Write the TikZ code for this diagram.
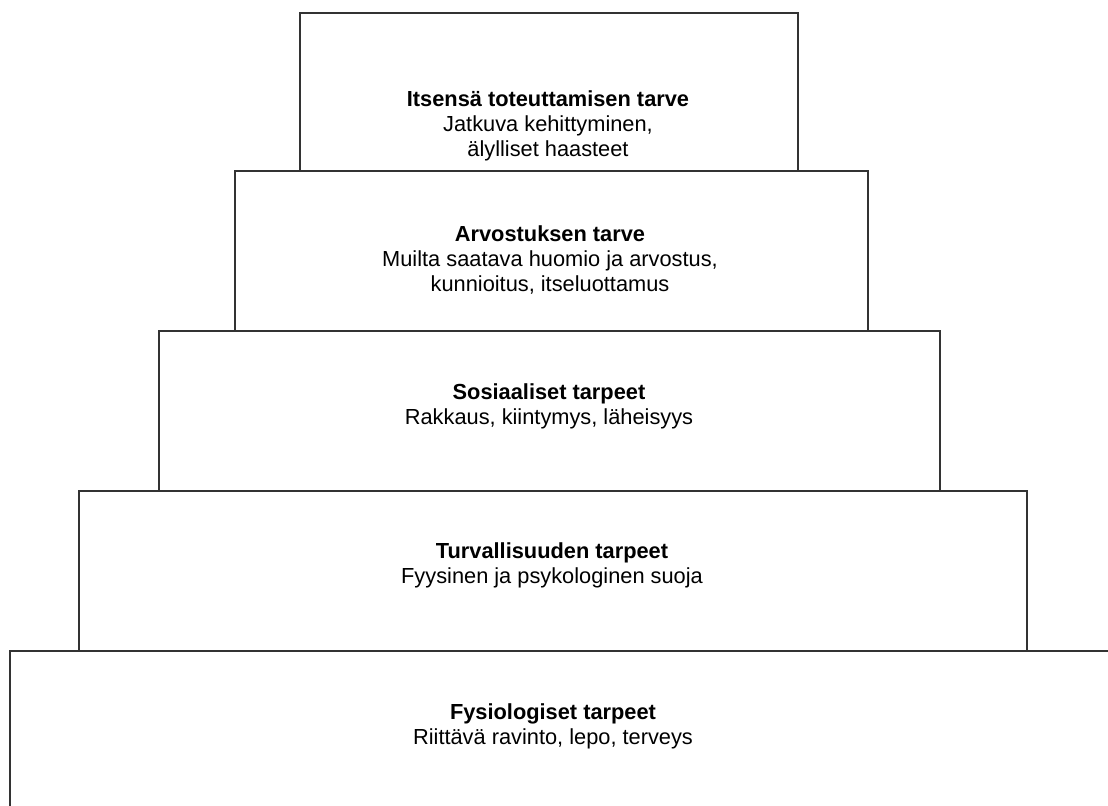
\documentclass[tikz,border=0pt]{standalone}
\usepackage{fontspec}
\setmainfont{Liberation Sans}
\usetikzlibrary{positioning}

\begin{document}
\begin{tikzpicture}[
				x=0.025cm, y=-0.025cm,
				level/.style={
					rectangle, draw=black!80, line width=1.3pt,
					anchor=north west, inner sep=0pt
				},
				needtext/.style={
					align=center, font=\fontsize{15.5}{17.6}\selectfont
				}
				]
				\useasboundingbox (0,0) rectangle (1108,806);
				\clip (0,0) rectangle (1108,806);
				
				% Fysiologiset (base, runs off the page)
				\node[level, minimum width=1200*0.025cm, minimum height=200*0.025cm] (fysio) at (9,650) {};
				
				% Turvallisuus
				\node[level, minimum width=948*0.025cm, minimum height=160*0.025cm] (turva) at (78,490) {};
				
				% Sosiaaliset
				\node[level, minimum width=781*0.025cm, minimum height=160*0.025cm] (sosiaali) at (158,330) {};
				
				% Arvostus
				\node[level, minimum width=633*0.025cm, minimum height=160*0.025cm] (arvostus) at (234,170) {};
				
				% Itsensa toteuttaminen (top)
				\node[level, minimum width=498*0.025cm, minimum height=158*0.025cm] (itse) at (299,12) {};
				
				% texts
				\node[needtext] (itseText) at (548,126) {\textbf{Itsensä toteuttamisen tarve}\\Jatkuva kehittyminen,\\älylliset haasteet};
				\node[needtext] (arvostusText) at (550,260) {\textbf{Arvostuksen tarve}\\Muilta saatava huomio ja arvostus,\\kunnioitus, itseluottamus};
				\node[needtext] (sosiaaliText) at (549,406) {\textbf{Sosiaaliset tarpeet}\\Rakkaus, kiintymys, läheisyys};
				\node[needtext] (turvaText) at (552,565) {\textbf{Turvallisuuden tarpeet}\\Fyysinen ja psykologinen suoja};
				\node[needtext] (fysioText) at (553,726) {\textbf{Fysiologiset tarpeet}\\Riittävä ravinto, lepo, terveys};
			\end{tikzpicture}
\end{document}
